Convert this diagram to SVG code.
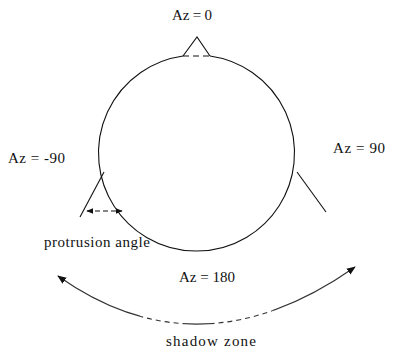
<svg xmlns="http://www.w3.org/2000/svg" width="393" height="353" viewBox="0 0 393 353">
<style>
text{font-family:"Liberation Serif","Times New Roman","DejaVu Serif",serif;font-size:15px;fill:#111}
.ln{fill:none;stroke:#111;stroke-width:1.1}
.arc{fill:none;stroke:#333;stroke-width:1.1}
.dash{stroke-dasharray:5 4}
</style>
<defs>
<marker id="ah" viewBox="0 0 10 10" refX="9" refY="5" markerWidth="9" markerHeight="9" markerUnits="userSpaceOnUse" orient="auto-start-reverse">
<path d="M0,1 L10,5 L0,9 Z" fill="#111"/>
</marker>
<marker id="ahs" viewBox="0 0 10 10" refX="9" refY="5" markerWidth="7" markerHeight="7" markerUnits="userSpaceOnUse" orient="auto-start-reverse">
<path d="M0,1 L10,5 L0,9 Z" fill="#111"/>
</marker>
<clipPath id="solidC"><rect x="0" y="0" width="140" height="353"/><rect x="183" y="0" width="30" height="353"/><rect x="273" y="0" width="120" height="353"/></clipPath>
<clipPath id="dashC"><rect x="140" y="0" width="43" height="353"/><rect x="213" y="0" width="60" height="353"/></clipPath>
</defs>
<g id="head">
<path class="ln" d="M210,56 A98,98 0 1 1 183,56"/>
<path class="ln dash" d="M183,56 L210,56" style="stroke-dasharray:6 4"/>
</g>
<g id="nose">
<path class="ln" d="M183,56 L197,37 L210,56"/>
</g>
<g id="left-protrusion">
<path class="ln" d="M104,172 L80,217"/>
</g>
<g id="right-protrusion">
<path class="ln" d="M297,172 L326,212"/>
</g>
<g id="connectors">
<path class="ln" d="M87,211 L122,211" style="stroke-dasharray:5 3" marker-start="url(#ahs)" marker-end="url(#ahs)"/>
<path class="arc" d="M58,276 Q199.5,376.5 355,267" clip-path="url(#solidC)" marker-start="url(#ah)" marker-end="url(#ah)"/>
<path class="arc dash" d="M58,276 Q199.5,376.5 355,267" clip-path="url(#dashC)"/>
</g>
<g id="labels">
<text x="172" y="20" textLength="40" lengthAdjust="spacing">Az = 0</text>
<text x="8" y="163" textLength="57" lengthAdjust="spacing">Az = -90</text>
<text x="333" y="153" textLength="52" lengthAdjust="spacing">Az = 90</text>
<text x="179" y="282" textLength="56" lengthAdjust="spacing">Az = 180</text>
<text x="44" y="247" textLength="106" lengthAdjust="spacing">protrusion angle</text>
<text x="166" y="346" textLength="90" lengthAdjust="spacing">shadow zone</text>
</g>
</svg>
